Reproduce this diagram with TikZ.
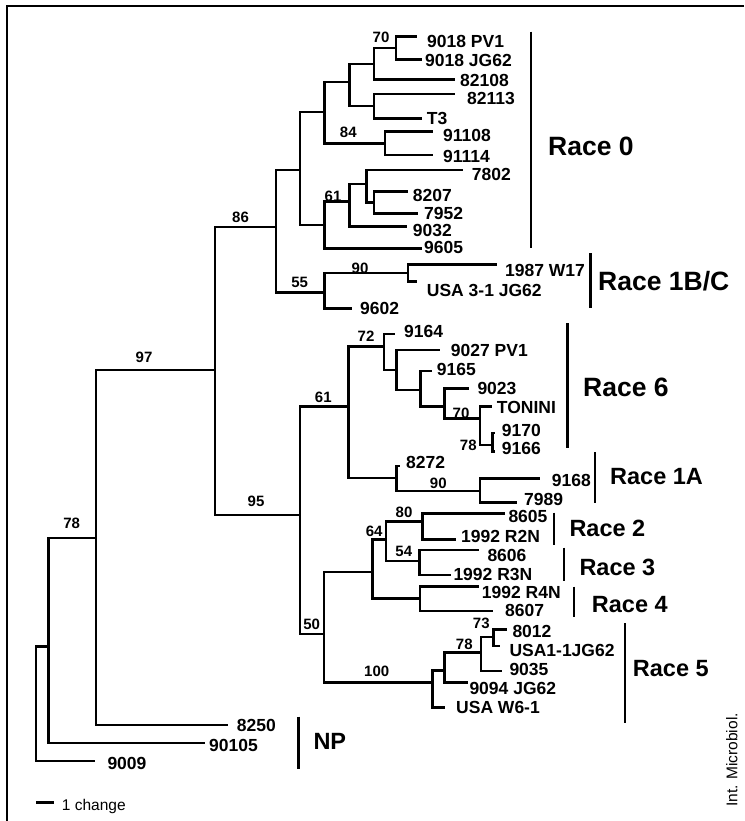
\documentclass[tikz,border=0pt]{standalone}
\usepackage{fontspec}
\setmainfont{Liberation Sans}
\newcommand\leaffont{\fontsize{17.5}{20}\selectfont\bfseries}
\newcommand\supfont{\fontsize{15}{17}\selectfont\bfseries}
\newcommand\racefont{\fontsize{23.5}{26}\selectfont\bfseries}
\newcommand\bigracefont{\fontsize{26.5}{29}\selectfont\bfseries}
\newcommand\notefont{\fontsize{15.5}{18}\selectfont}
\tikzset{
  br/.style={line width=2.9pt, line join=miter},
  barline/.style={line width=2.8pt},
  frameline/.style={line width=2pt},
  leaf/.style={font=\leaffont, anchor=west, inner sep=0pt},
  sup/.style={font=\supfont, inner sep=0pt},
  race/.style={font=\racefont, anchor=west, inner sep=0pt},
  bigrace/.style={font=\bigracefont, anchor=west, inner sep=0pt},
}
\begin{document}
\begin{tikzpicture}[x=1pt,y=-1pt]
\useasboundingbox (0,0) rectangle (744,821);
% frame
\coordinate (fr1) at (744,6);
\coordinate (fr2) at (7,6);
\coordinate (fr3) at (7,821);
\draw[frameline] (fr1) -- (fr2) -- (fr3);

% ---------- internal nodes ----------
\coordinate (root) at (36,704);
\coordinate (nA78) at (48.3,646.7);
\coordinate (nB) at (96,538);
\coordinate (n97) at (215,370);
\coordinate (n86) at (276,227);
\coordinate (nF) at (300,170);
\coordinate (nD) at (324.3,112);
\coordinate (nC) at (349.3,82);
\coordinate (nAa) at (374,64);
\coordinate (n70) at (396,48);
\coordinate (nBb) at (374,106);
\coordinate (n84) at (385,143.3);
\coordinate (nE) at (324.3,225);
\coordinate (n61) at (349.3,201.7);
\coordinate (n7802) at (366.7,184);
\coordinate (n8207) at (374,202.5);
\coordinate (n55) at (324.3,292.7);
\coordinate (n90) at (408,273);
\coordinate (n95) at (300,515);
\coordinate (n61b) at (348.3,406.7);
\coordinate (n72) at (384,346.7);
\coordinate (nq) at (396.7,370);
\coordinate (nr) at (420.7,390);
\coordinate (ns) at (444.3,406.7);
\coordinate (n70b) at (480,418.3);
\coordinate (n78c) at (492.3,445);
\coordinate (nX) at (396.3,478);
\coordinate (n90b) at (480,491);
\coordinate (n50) at (324,634);
\coordinate (n64) at (372.7,572);
\coordinate (n23) at (386,539.3);
\coordinate (n80) at (422.7,521.7);
\coordinate (n54) at (419.3,561);
\coordinate (n4) at (420,598.3);
\coordinate (n100) at (432.3,682.3);
\coordinate (n78d) at (444.3,670.7);
\coordinate (n78e) at (481,652.7);
\coordinate (n73) at (493.3,637);

% ---------- leaf ends ----------
\coordinate (l9009) at (95,761);
\coordinate (l90105) at (205,743);
\coordinate (l8250) at (228,725);
\coordinate (lPV1) at (416.7,36.7);
\coordinate (lJG62) at (421.7,59.3);
\coordinate (l82108) at (455,79.3);
\coordinate (l82113) at (455,94);
\coordinate (lT3) at (421.7,118.3);
\coordinate (l91108) at (433,131.7);
\coordinate (l91114) at (433,155);
\coordinate (l7802) at (463,170);
\coordinate (l8207) at (408.3,191.7);
\coordinate (l7952) at (418.3,213.3);
\coordinate (l9032) at (406.7,226.7);
\coordinate (l9605) at (421.7,248.3);
\coordinate (l1987) at (496.7,264.3);
\coordinate (lUSA31) at (416.7,281.7);
\coordinate (l9602) at (351.7,308.3);
\coordinate (l9164) at (395,334);
\coordinate (l9027) at (440,350);
\coordinate (l9165) at (431.7,371);
\coordinate (l9023) at (469.3,388.3);
\coordinate (lTON) at (491.7,406.7);
\coordinate (l9170) at (495,433);
\coordinate (l9166) at (495,451.7);
\coordinate (l8272) at (399.5,466);
\coordinate (l9168) at (540,478.3);
\coordinate (l7989) at (516.7,502.7);
\coordinate (l8605) at (505,513.3);
\coordinate (lR2N) at (456,539.3);
\coordinate (l8606) at (479.3,550);
\coordinate (lR3N) at (450.7,575);
\coordinate (lR4N) at (479.3,586.7);
\coordinate (l8607) at (492.7,611);
\coordinate (l8012) at (506.7,629.3);
\coordinate (lUSA11) at (500,646);
\coordinate (l9035) at (501.7,671);
\coordinate (l9094) at (468.3,682.7);
\coordinate (lW61) at (445,707.3);

% ---------- branches ----------
\draw[br] (root) |- (l9009);
\draw[br] (root) |- (nA78);
\draw[br] (nA78) |- (nB);
\draw[br] (nA78) |- (l90105);
\draw[br] (nB) |- (n97);
\draw[br] (nB) |- (l8250);
\draw[br] (n97) |- (n86);
\draw[br] (n97) |- (n95);
\draw[br] (n86) |- (nF);
\draw[br] (n86) |- (n55);
\draw[br] (nF) |- (nD);
\draw[br] (nF) |- (nE);
\draw[br] (nD) |- (nC);
\draw[br] (nD) |- (n84);
\draw[br] (nC) |- (nAa);
\draw[br] (nC) |- (nBb);
\draw[br] (nAa) |- (n70);
\draw[br] (nAa) |- (l82108);
\draw[br] (n70) |- (lPV1);
\draw[br] (n70) |- (lJG62);
\draw[br] (nBb) |- (l82113);
\draw[br] (nBb) |- (lT3);
\draw[br] (n84) |- (l91108);
\draw[br] (n84) |- (l91114);
\draw[br] (nE) |- (n61);
\draw[br] (nE) |- (l9605);
\draw[br] (n61) |- (n7802);
\draw[br] (n61) |- (l9032);
\draw[br] (n7802) |- (l7802);
\draw[br] (n7802) |- (n8207);
\draw[br] (n8207) |- (l8207);
\draw[br] (n8207) |- (l7952);
\draw[br] (n55) |- (n90);
\draw[br] (n55) |- (l9602);
\draw[br] (n90) |- (l1987);
\draw[br] (n90) |- (lUSA31);
\draw[br] (n95) |- (n61b);
\draw[br] (n95) |- (n50);
\draw[br] (n61b) |- (n72);
\draw[br] (n61b) |- (nX);
\draw[br] (n72) |- (l9164);
\draw[br] (n72) |- (nq);
\draw[br] (nq) |- (l9027);
\draw[br] (nq) |- (nr);
\draw[br] (nr) |- (l9165);
\draw[br] (nr) |- (ns);
\draw[br] (ns) |- (l9023);
\draw[br] (ns) |- (n70b);
\draw[br] (n70b) |- (lTON);
\draw[br] (n70b) |- (n78c);
\draw[br] (n78c) |- (l9170);
\draw[br] (n78c) |- (l9166);
\draw[br] (nX) |- (l8272);
\draw[br] (nX) |- (n90b);
\draw[br] (n90b) |- (l9168);
\draw[br] (n90b) |- (l7989);
\draw[br] (n50) |- (n64);
\draw[br] (n50) |- (n100);
\draw[br] (n64) |- (n23);
\draw[br] (n64) |- (n4);
\draw[br] (n23) |- (n80);
\draw[br] (n23) |- (n54);
\draw[br] (n80) |- (l8605);
\draw[br] (n80) |- (lR2N);
\draw[br] (n54) |- (l8606);
\draw[br] (n54) |- (lR3N);
\draw[br] (n4) |- (lR4N);
\draw[br] (n4) |- (l8607);
\draw[br] (n100) |- (n78d);
\draw[br] (n100) |- (lW61);
\draw[br] (n78d) |- (n78e);
\draw[br] (n78d) |- (l9094);
\draw[br] (n78e) |- (n73);
\draw[br] (n78e) |- (l9035);
\draw[br] (n73) |- (l8012);
\draw[br] (n73) |- (lUSA11);

% ---------- leaf labels ----------
\node[leaf] (t9009) at (107.3,763.3) {9009};
\node[leaf] (t90105) at (209,745) {90105};
\node[leaf] (t8250) at (236.7,725.7) {8250};
\node[leaf] (tPV1) at (427,41.7) {9018 PV1};
\node[leaf] (tJG62) at (425,60) {9018 JG62};
\node[leaf] (t82108) at (460,80) {82108};
\node[leaf] (t82113) at (467,98) {82113};
\node[leaf] (tT3) at (426.7,118.3) {T3};
\node[leaf] (t91108) at (443,135) {91108};
\node[leaf] (t91114) at (443,156.7) {91114};
\node[leaf] (t7802) at (471.7,174) {7802};
\node[leaf] (t8207) at (412.7,195) {8207};
\node[leaf] (t7952) at (424,213.3) {7952};
\node[leaf] (t9032) at (412.7,230.7) {9032};
\node[leaf] (t9605) at (424,247) {9605};
\node[leaf] (t1987) at (505,270) {1987 W17};
\node[leaf] (tUSA31) at (426.7,290) {USA 3-1 JG62};
\node[leaf] (t9602) at (360,308.3) {9602};
\node[leaf] (t9164) at (404,331.7) {9164};
\node[leaf] (t9027) at (450.7,350) {9027 PV1};
\node[leaf] (t9165) at (436.7,369) {9165};
\node[leaf] (t9023) at (477.3,388.3) {9023};
\node[leaf] (tTON) at (496.7,407.3) {TONINI};
\node[leaf] (t9170) at (501.7,430.7) {9170};
\node[leaf] (t9166) at (501.7,448.3) {9166};
\node[leaf] (t8272) at (406,462.3) {8272};
\node[leaf] (t9168) at (551.7,480) {9168};
\node[leaf] (t7989) at (524,499.3) {7989};
\node[leaf] (t8605) at (508.3,516.7) {8605};
\node[leaf] (tR2N) at (461,536) {1992 R2N};
\node[leaf] (t8606) at (487.3,555) {8606};
\node[leaf] (tR3N) at (453.3,574) {1992 R3N};
\node[leaf] (tR4N) at (481.7,592.7) {1992 R4N};
\node[leaf] (t8607) at (505,610) {8607};
\node[leaf] (t8012) at (512.3,631.7) {8012};
\node[leaf] (tUSA11) at (509.3,650) {USA1-1JG62};
\node[leaf] (t9035) at (509.3,669) {9035};
\node[leaf] (t9094) at (469.3,688.3) {9094 JG62};
\node[leaf] (tW61) at (456,707.7) {USA W6-1};

% ---------- support values ----------
\node[sup] (s78a) at (71.7,523) {78};
\node[sup] (s97) at (144,357) {97};
\node[sup] (s86) at (240.5,217) {86};
\node[sup] (s70a) at (381,37.5) {70};
\node[sup] (s84) at (348.3,132.5) {84};
\node[sup] (s61a) at (333,196.7) {61};
\node[sup] (s55) at (299.7,282.3) {55};
\node[sup] (s90a) at (360,268.3) {90};
\node[sup] (s95) at (256,501.7) {95};
\node[sup] (s61b) at (323.3,397.7) {61};
\node[sup] (s72) at (366,335.8) {72};
\node[sup] (s70b) at (461,413) {70};
\node[sup] (s78c) at (468.3,445) {78};
\node[sup] (s90b) at (438.3,483.3) {90};
\node[sup] (s50) at (311.7,624) {50};
\node[sup] (s64) at (374.2,531.7) {64};
\node[sup] (s80) at (404,512) {80};
\node[sup] (s54) at (403.8,551.7) {54};
\node[sup] (s100) at (376.7,671.3) {100};
\node[sup] (s78e) at (464.3,644.7) {78};
\node[sup] (s73) at (481.3,623.7) {73};

% ---------- group bars ----------
\coordinate (b0a) at (531,31.7);   \coordinate (b0b) at (531,248);
\coordinate (b1a) at (590.7,253);  \coordinate (b1b) at (590.7,308);
\coordinate (b6a) at (567.3,323);  \coordinate (b6b) at (567.3,448.3);
\coordinate (bAa) at (595,452);    \coordinate (bAb) at (595,503);
\coordinate (b2a) at (554,512.7);  \coordinate (b2b) at (554,545);
\coordinate (b3a) at (564,547.7);  \coordinate (b3b) at (564,580.7);
\coordinate (b4a) at (574,586.7);  \coordinate (b4b) at (574,617.3);
\coordinate (b5a) at (625,623.3);  \coordinate (b5b) at (625,723.3);
\coordinate (bNa) at (298.3,716.7); \coordinate (bNb) at (298.3,769.3);
\draw[barline] (b0a) -- (b0b);
\draw[barline] (b1a) -- (b1b);
\draw[barline] (b6a) -- (b6b);
\draw[barline] (bAa) -- (bAb);
\draw[barline] (b2a) -- (b2b);
\draw[barline] (b3a) -- (b3b);
\draw[barline] (b4a) -- (b4b);
\draw[barline] (b5a) -- (b5b);
\draw[barline] (bNa) -- (bNb);

\node[bigrace] (r0) at (548,146) {Race 0};
\node[bigrace] (r1bc) at (598,281) {Race 1B/C};
\node[bigrace] (r6) at (583,387) {Race 6};
\node[race] (r1a) at (610,477) {Race 1A};
\node[race] (r2) at (569.3,528.3) {Race 2};
\node[race] (r3) at (579.3,567.3) {Race 3};
\node[race] (r4) at (591.7,605) {Race 4};
\node[race] (r5) at (632.7,668.3) {Race 5};
\node[race] (rNP) at (313.3,741.7) {NP};

% ---------- scale bar and credit ----------
\coordinate (sc1) at (36,802.7);
\coordinate (sc2) at (54,802.7);
\draw[line width=2.6pt] (sc1) -- (sc2);
\node[font=\notefont, anchor=base west, inner sep=0pt] (sclab) at (61.7,810.5) {1 change};
\node[font=\notefont, rotate=90, inner sep=0pt] (credit) at (731.7,760) {Int. Microbiol.};
\end{tikzpicture}
\end{document}
